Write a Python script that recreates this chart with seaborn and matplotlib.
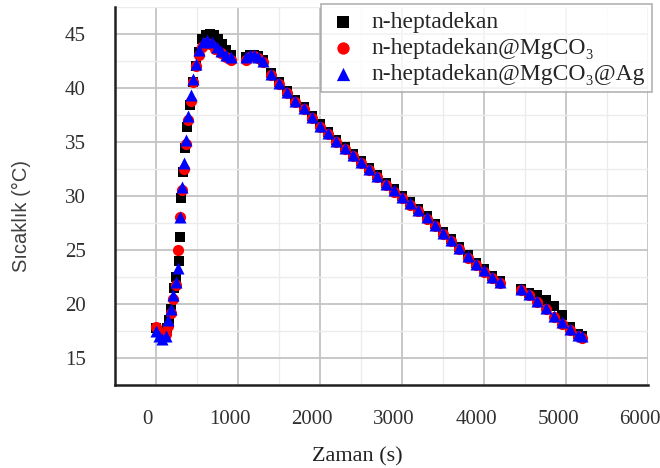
import matplotlib
matplotlib.use("Agg")
import matplotlib.pyplot as plt
from matplotlib.ticker import MultipleLocator
import matplotlib.transforms as mtransforms
import seaborn as sns
import pandas as pd

# ---- data ----
series_names = ["n-heptadekan", "n-heptadekan@MgCO\u2083", "n-heptadekan@MgCO\u2083@Ag"]

t_black = [0, 50, 100, 130, 160, 190, 220, 250, 280, 295, 310, 330, 360, 385, 420, 450, 490, 520, 560,
           610, 660, 710, 760, 810, 860, 910,
           1100, 1150, 1200, 1250, 1300, 1400, 1500, 1600, 1700, 1800, 1900, 2000, 2100, 2200, 2300,
           2400, 2500, 2600, 2700, 2800, 2900, 3000, 3100, 3200, 3300, 3400, 3500, 3600, 3700, 3800,
           3900, 4000, 4100, 4200, 4450, 4550, 4650, 4750, 4850, 4950, 5050, 5150, 5200]
y_black = [17.8, 17.5, 17.3, 17.8, 18.5, 19.5, 21.5, 22.5, 24.0, 26.2, 29.8, 32.2, 34.4, 36.4, 38.4, 40.5,
           42.0, 43.3, 44.5, 44.9, 45.0, 44.9, 44.5, 44.0, 43.5, 43.0,
           42.8, 43.0, 43.0, 42.9, 42.6, 41.4, 40.5, 39.7, 38.9, 38.2, 37.4, 36.6, 35.9, 35.2, 34.5,
           33.9, 33.2, 32.6, 31.9, 31.2, 30.6, 30.0, 29.4, 28.8, 28.1, 27.4, 26.7, 26.0, 25.3, 24.5,
           23.8, 23.2, 22.6, 22.1, 21.4, 21.0, 20.8, 20.4, 19.8, 19.0, 17.9, 17.2, 17.0]

t_red = [0, 40, 80, 120, 150, 180, 210, 240, 270, 300, 320, 345, 370, 395, 425, 455, 485, 520, 560,
         610, 660, 720, 790, 860, 920,
         1100, 1150, 1200, 1250, 1300, 1400, 1500, 1600, 1700, 1800, 1900, 2000, 2100, 2200, 2300,
         2400, 2500, 2600, 2700, 2800, 2900, 3000, 3100, 3200, 3300, 3400, 3500, 3600, 3700, 3800,
         3900, 4000, 4100, 4200, 4450, 4550, 4650, 4750, 4850, 4950, 5050, 5150, 5200]
y_red = [17.9, 17.4, 17.0, 17.2, 18.0, 19.2, 20.5, 21.8, 25.0, 28.0, 30.5, 32.5, 34.8, 37.0, 38.8, 40.5,
         42.0, 43.0, 43.8, 44.1, 44.0, 43.6, 43.2, 42.8, 42.6,
         42.6, 42.8, 42.9, 42.7, 42.4, 41.2, 40.3, 39.5, 38.7, 38.0, 37.2, 36.4, 35.7, 35.0, 34.3,
         33.7, 33.0, 32.4, 31.7, 31.0, 30.4, 29.8, 29.2, 28.6, 27.9, 27.2, 26.5, 25.8, 25.1, 24.3,
         23.6, 23.0, 22.4, 21.9, 21.3, 20.8, 20.2, 19.5, 18.8, 18.2, 17.6, 17.0, 16.9]

t_blue = [0, 40, 80, 120, 150, 180, 210, 240, 265, 290, 315, 340, 370, 395, 425, 455, 485, 520, 570,
          620, 680, 740, 800, 860, 920,
          1100, 1150, 1200, 1250, 1300, 1400, 1500, 1600, 1700, 1800, 1900, 2000, 2100, 2200, 2300,
          2400, 2500, 2600, 2700, 2800, 2900, 3000, 3100, 3200, 3300, 3400, 3500, 3600, 3700, 3800,
          3900, 4000, 4100, 4200, 4450, 4550, 4650, 4750, 4850, 4950, 5050, 5150, 5200]
y_blue = [17.5, 17.0, 16.8, 17.0, 18.5, 19.5, 20.8, 22.0, 23.3, 28.0, 30.8, 33.0, 35.2, 37.4, 39.3, 40.8,
          42.2, 43.5, 44.2, 44.4, 44.2, 43.8, 43.4, 43.0, 42.8,
          42.8, 43.0, 43.0, 42.8, 42.5, 41.3, 40.4, 39.6, 38.8, 38.1, 37.3, 36.5, 35.8, 35.1, 34.4,
          33.8, 33.1, 32.5, 31.8, 31.1, 30.5, 29.9, 29.3, 28.7, 28.0, 27.3, 26.6, 25.9, 25.2, 24.4,
          23.7, 23.1, 22.5, 22.0, 21.4, 20.9, 20.3, 19.6, 18.9, 18.3, 17.7, 17.1, 17.0]

x_ticks = [0, 1000, 2000, 3000, 4000, 5000, 6000]
y_ticks = [15, 20, 25, 30, 35, 40, 45]

# ---- build long-form table ----
df = pd.concat([
    pd.DataFrame({"Zaman": t_black, "Sicaklik": y_black, "Numune": series_names[0]}),
    pd.DataFrame({"Zaman": t_red, "Sicaklik": y_red, "Numune": series_names[1]}),
    pd.DataFrame({"Zaman": t_blue, "Sicaklik": y_blue, "Numune": series_names[2]}),
], ignore_index=True)

sns.set_style("white")
serif = ["Liberation Serif", "DejaVu Serif"]
plt.rcParams["font.family"] = serif

fig = plt.figure(figsize=(6.6, 4.68), dpi=100)
ax = fig.add_axes([0.174, 0.177, 0.808, 0.809])

palette = {series_names[0]: "#000000", series_names[1]: "#ff0000", series_names[2]: "#0000ff"}
markers = {series_names[0]: "s", series_names[1]: "o", series_names[2]: "^"}
sizes = {series_names[0]: 55, series_names[1]: 65, series_names[2]: 75}

for name in series_names:
    sub = df[df["Numune"] == name]
    sns.scatterplot(data=sub, x="Zaman", y="Sicaklik", color=palette[name], marker=markers[name],
                    s=sizes[name], linewidth=0, ax=ax, label=name, zorder=3)

ax.set_xlim(-500, 6000)
ax.set_ylim(12.5, 47.5)
ax.set_xticks(x_ticks)
ax.set_yticks(y_ticks)
ax.xaxis.set_minor_locator(MultipleLocator(500))
ax.yaxis.set_minor_locator(MultipleLocator(2.5))

ax.grid(which="major", color="#c4c4c4", linewidth=1.3, zorder=0)
ax.grid(which="minor", color="#ececec", linewidth=1.0, zorder=0)
ax.set_axisbelow(True)

for side in ["top", "right"]:
    ax.spines[side].set_visible(False)
for side in ["left", "bottom"]:
    ax.spines[side].set_color("#202020")
    ax.spines[side].set_linewidth(1.8)

ax.tick_params(axis="both", which="both", direction="out", color="#202020", width=1.5)
ax.tick_params(axis="both", which="major", length=6, labelsize=15, labelcolor="#303030")
ax.tick_params(axis="both", which="minor", length=5)
ax.tick_params(axis="y", which="major", pad=15)
ax.tick_params(axis="x", which="major", pad=12)

shift = mtransforms.ScaledTranslation(-8 / 100, 0, fig.dpi_scale_trans)
for lab in ax.get_xticklabels():
    lab.set_transform(lab.get_transform() + shift)

ax.set_xlabel("Zaman (s)", fontsize=16, color="#202020")
ax.xaxis.set_label_coords(0.455, -0.163)
ax.set_ylabel("Sıcaklık (°C)", fontsize=14.5, color="#404040",
              family=["Liberation Sans", "DejaVu Sans"])
ax.yaxis.set_label_coords(-0.158, 0.447)

leg = ax.legend(loc="upper left", bbox_to_anchor=(0.486, 0.991), bbox_transform=fig.transFigure,
                frameon=True, fontsize=17, handletextpad=0.55, borderpad=0.3, labelspacing=0.2,
                handlelength=1.3, fancybox=False, borderaxespad=0, markerscale=1.1)
leg.get_frame().set_edgecolor("#a0a0a0")
leg.get_frame().set_linewidth(1.2)
leg.set_zorder(10)

fig.savefig("out.png", dpi=100)
